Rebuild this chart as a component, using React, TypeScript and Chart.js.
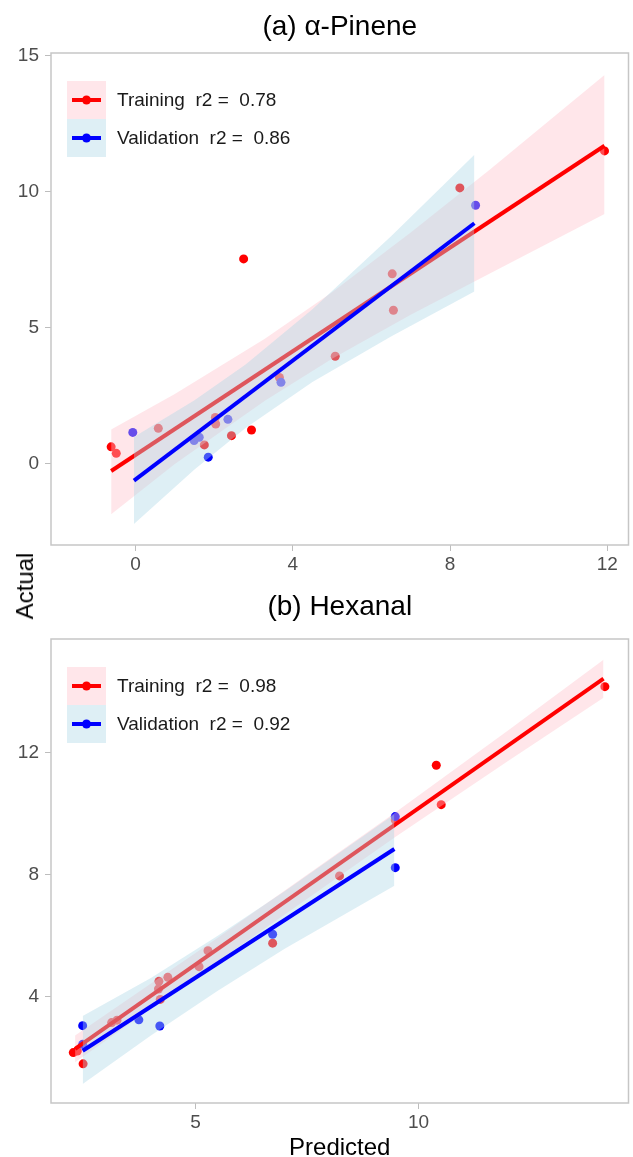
import React, { useEffect, useRef } from "react";
import { Chart, registerables } from "chart.js";

Chart.register(...registerables);

const FONT = '"Liberation Sans", Arimo, Arial, sans-serif';

// ---------- Panel (a) α-Pinene ----------
const pineneTitle = "(a) α-Pinene";
const pineneTrainLabel = "Training  r2 =  0.78";
const pineneValLabel = "Validation  r2 =  0.86";
const pineneTrainX = [-0.62, -0.49, 0.58, 1.75, 2.03, 2.04, 2.44, 2.95, 2.75, 3.66, 5.08, 6.53, 6.56, 8.25, 11.93];
const pineneTrainY = [0.63, 0.39, 1.31, 0.70, 1.71, 1.47, 1.04, 1.25, 7.54, 3.18, 3.96, 6.99, 5.65, 10.15, 11.51];
const pineneValX = [-0.07, 1.49, 1.62, 1.85, 2.35, 3.70, 8.65];
const pineneValY = [1.16, 0.86, 0.98, 0.25, 1.64, 3.00, 9.51];
const pineneTrainFitX = [-0.62, 11.93];
const pineneTrainFitY = [-0.26, 11.70];
const pineneValFitX = [-0.04, 8.62];
const pineneValFitY = [-0.61, 8.85];
const pineneTrainBandX = [-0.62, 1, 3.3, 5, 7, 9, 11.93];
const pineneTrainBandHi = [1.27, 2.57, 4.61, 6.31, 8.51, 10.81, 14.3];
const pineneTrainBandLo = [-1.85, 0.0, 2.33, 3.87, 5.49, 6.99, 9.19];
const pineneValBandX = [-0.04, 1.5, 2.8, 4.5, 6.5, 8.62];
const pineneValBandHi = [0.99, 2.34, 3.66, 5.69, 8.37, 11.37];
const pineneValBandLo = [-2.21, -0.2, 1.32, 3.01, 4.69, 6.34];
const pineneXTicks = [0, 4, 8, 12];
const pineneYTicks = [0, 5, 10, 15];

// ---------- Panel (b) Hexanal ----------
const hexanalTitle = "(b) Hexanal";
const hexanalTrainLabel = "Training  r2 =  0.98";
const hexanalValLabel = "Validation  r2 =  0.92";
const hexanalTrainX = [2.26, 2.35, 2.48, 3.12, 3.24, 4.18, 4.38, 4.17, 4.21, 5.08, 5.28, 6.73, 8.23, 9.48, 10.40, 10.51, 14.18];
const hexanalTrainY = [2.18, 2.23, 1.81, 3.16, 3.24, 4.51, 4.64, 4.26, 3.92, 4.99, 5.51, 5.76, 7.96, 9.79, 11.58, 10.29, 14.15];
const hexanalValX = [2.47, 2.47, 3.73, 4.20, 6.73, 9.48, 9.48];
const hexanalValY = [3.06, 2.45, 3.25, 3.05, 6.05, 9.90, 8.23];
const hexanalTrainFitX = [2.3, 14.15];
const hexanalTrainFitY = [2.30, 14.41];
const hexanalValFitX = [2.47, 9.46];
const hexanalValFitY = [2.24, 8.84];
const hexanalTrainBandX = [2.3, 5.5, 9.48, 12, 14.15];
const hexanalTrainBandHi = [2.74, 5.94, 10.03, 12.71, 15.03];
const hexanalTrainBandLo = [1.86, 5.16, 9.23, 11.71, 13.79];
const hexanalValBandX = [2.47, 4, 5.5, 7, 9.46];
const hexanalValBandHi = [3.38, 4.62, 6.0, 7.46, 9.98];
const hexanalValBandLo = [1.15, 2.74, 4.2, 5.58, 7.64];
const hexanalXTicks = [5, 10];
const hexanalYTicks = [4, 8, 12];

const RED = "#ff0000";
const BLUE = "#0000ff";
const PINK_FILL = "rgba(255,192,203,0.4)";
const BLUE_FILL = "rgba(173,216,230,0.4)";

const zip = (xs: number[], ys: number[]) => xs.map((x, i) => ({ x, y: ys[i] }));

type Panel = {
  title: string;
  trainLabel: string;
  valLabel: string;
  trainX: number[]; trainY: number[];
  valX: number[]; valY: number[];
  trainFitX: number[]; trainFitY: number[];
  valFitX: number[]; valFitY: number[];
  trainBandX: number[]; trainBandHi: number[]; trainBandLo: number[];
  valBandX: number[]; valBandHi: number[]; valBandLo: number[];
  xTicks: number[]; yTicks: number[];
  xMin: number; xMax: number; yMin: number; yMax: number;
  padTop: number; xAxisH: number;
  xTitle?: string;
};

function decoPlugin(p: Panel) {
  return {
    id: "deco",
    afterDraw(chart: any) {
      const { ctx, chartArea: a } = chart;
      ctx.save();
      // frame
      ctx.strokeStyle = "#c6c6c6";
      ctx.lineWidth = 1.5;
      ctx.strokeRect(a.left, a.top, a.right - a.left, a.bottom - a.top);
      // title
      ctx.fillStyle = "#000";
      ctx.font = `28px ${FONT}`;
      ctx.textAlign = "center";
      ctx.textBaseline = "middle";
      ctx.fillText(p.title, (a.left + a.right) / 2, 27);
      // legend
      const items = [
        { label: p.trainLabel, color: RED, fill: PINK_FILL },
        { label: p.valLabel, color: BLUE, fill: BLUE_FILL },
      ];
      items.forEach((it, i) => {
        const y0 = a.top + 28 + i * 38;
        const cy = y0 + 19;
        ctx.fillStyle = it.fill;
        ctx.fillRect(67, y0, 39, 38);
        ctx.strokeStyle = it.color;
        ctx.lineWidth = 4;
        ctx.beginPath();
        ctx.moveTo(72, cy);
        ctx.lineTo(101, cy);
        ctx.stroke();
        ctx.fillStyle = it.color;
        ctx.beginPath();
        ctx.arc(86.5, cy, 4.5, 0, Math.PI * 2);
        ctx.fill();
        ctx.fillStyle = "#1a1a1a";
        ctx.font = `19px ${FONT}`;
        ctx.textAlign = "left";
        ctx.textBaseline = "middle";
        ctx.fillText(it.label, 117, cy + 1);
      });
      if (p.xTitle) {
        ctx.fillStyle = "#000";
        ctx.font = `24px ${FONT}`;
        ctx.textAlign = "center";
        ctx.textBaseline = "alphabetic";
        ctx.fillText(p.xTitle, (a.left + a.right) / 2, chart.height - 2);
      }
      ctx.restore();
    },
  };
}

function buildConfig(p: Panel): any {
  const axisCommon = (ticks: number[]) => ({
    type: "linear",
    afterBuildTicks: (s: any) => {
      s.ticks = ticks.map((v) => ({ value: v }));
    },
    grid: { display: true, drawOnChartArea: false, drawTicks: true, tickLength: 6, color: "#bdbdbd", lineWidth: 1 },
    border: { display: false },
  });
  return {
    type: "line",
    data: {
      datasets: [
        { data: zip(p.trainX, p.trainY), showLine: false, pointRadius: 4.5, pointBackgroundColor: RED, pointBorderWidth: 0, borderColor: "transparent", order: 6 },
        { data: zip(p.valX, p.valY), showLine: false, pointRadius: 4.5, pointBackgroundColor: BLUE, pointBorderWidth: 0, borderColor: "transparent", order: 5 },
        { data: zip(p.trainBandX, p.trainBandHi), fill: 3, backgroundColor: PINK_FILL, borderColor: "transparent", borderWidth: 0, pointRadius: 0, order: 4 },
        { data: zip(p.trainBandX, p.trainBandLo), fill: false, borderColor: "transparent", borderWidth: 0, pointRadius: 0, order: 4 },
        { data: zip(p.trainFitX, p.trainFitY), borderColor: RED, borderWidth: 4, pointRadius: 0, fill: false, order: 3 },
        { data: zip(p.valBandX, p.valBandHi), fill: 6, backgroundColor: BLUE_FILL, borderColor: "transparent", borderWidth: 0, pointRadius: 0, order: 2 },
        { data: zip(p.valBandX, p.valBandLo), fill: false, borderColor: "transparent", borderWidth: 0, pointRadius: 0, order: 2 },
        { data: zip(p.valFitX, p.valFitY), borderColor: BLUE, borderWidth: 4, pointRadius: 0, fill: false, order: 1 },
      ],
    },
    options: {
      responsive: false,
      maintainAspectRatio: false,
      animation: false,
      devicePixelRatio: 1,
      events: [],
      layout: { padding: { top: p.padTop, right: 2, left: 0, bottom: 0 } },
      plugins: { legend: { display: false }, tooltip: { enabled: false }, title: { display: false } },
      scales: {
        x: {
          ...axisCommon(p.xTicks),
          min: p.xMin,
          max: p.xMax,
          ticks: { font: { size: 19, family: FONT }, color: "#4d4d4d", padding: 2, maxRotation: 0, autoSkip: false, callback: (v: any) => String(v) },
          afterFit: (s: any) => { s.height = p.xAxisH; },
        },
        y: {
          ...axisCommon(p.yTicks),
          min: p.yMin,
          max: p.yMax,
          ticks: { font: { size: 19, family: FONT }, color: "#4d4d4d", padding: 6, autoSkip: false, callback: (v: any) => String(v) },
          afterFit: (s: any) => { s.width = 51; },
        },
      },
    },
    plugins: [decoPlugin(p)],
  };
}

const panelA: Panel = {
  title: pineneTitle, trainLabel: pineneTrainLabel, valLabel: pineneValLabel,
  trainX: pineneTrainX, trainY: pineneTrainY, valX: pineneValX, valY: pineneValY,
  trainFitX: pineneTrainFitX, trainFitY: pineneTrainFitY, valFitX: pineneValFitX, valFitY: pineneValFitY,
  trainBandX: pineneTrainBandX, trainBandHi: pineneTrainBandHi, trainBandLo: pineneTrainBandLo,
  valBandX: pineneValBandX, valBandHi: pineneValBandHi, valBandLo: pineneValBandLo,
  xTicks: pineneXTicks, yTicks: pineneYTicks,
  xMin: -2.15, xMax: 12.54, yMin: -2.98, yMax: 15.11,
  padTop: 53, xAxisH: 35,
};

const panelB: Panel = {
  title: hexanalTitle, trainLabel: hexanalTrainLabel, valLabel: hexanalValLabel,
  trainX: hexanalTrainX, trainY: hexanalTrainY, valX: hexanalValX, valY: hexanalValY,
  trainFitX: hexanalTrainFitX, trainFitY: hexanalTrainFitY, valFitX: hexanalValFitX, valFitY: hexanalValFitY,
  trainBandX: hexanalTrainBandX, trainBandHi: hexanalTrainBandHi, trainBandLo: hexanalTrainBandLo,
  valBandX: hexanalValBandX, valBandHi: hexanalValBandHi, valBandLo: hexanalValBandLo,
  xTicks: hexanalXTicks, yTicks: hexanalYTicks,
  xMin: 1.76, xMax: 14.71, yMin: 0.53, yMax: 15.71,
  padTop: 59, xAxisH: 54, xTitle: "Predicted",
};

export default function App() {
  const ref1 = useRef<HTMLCanvasElement>(null);
  const ref2 = useRef<HTMLCanvasElement>(null);
  useEffect(() => {
    document.body.style.margin = "0";
    const c1 = new Chart(ref1.current as HTMLCanvasElement, buildConfig(panelA));
    const c2 = new Chart(ref2.current as HTMLCanvasElement, buildConfig(panelB));
    return () => {
      c1.destroy();
      c2.destroy();
    };
  }, []);
  return (
    <div style={{ position: "relative", width: 633, height: 1157, background: "#fff", overflow: "hidden" }}>
      <canvas ref={ref1} width={633} height={580} style={{ position: "absolute", left: 0, top: 0 }} />
      <canvas ref={ref2} width={633} height={577} style={{ position: "absolute", left: 0, top: 580 }} />
      <div
        style={{
          position: "absolute",
          left: 25,
          top: 586,
          transform: "translate(-50%, -50%) rotate(-90deg)",
          fontSize: 24,
          fontFamily: FONT,
          whiteSpace: "nowrap",
          color: "#000",
          lineHeight: 1,
        }}
      >
        Actual
      </div>
    </div>
  );
}
